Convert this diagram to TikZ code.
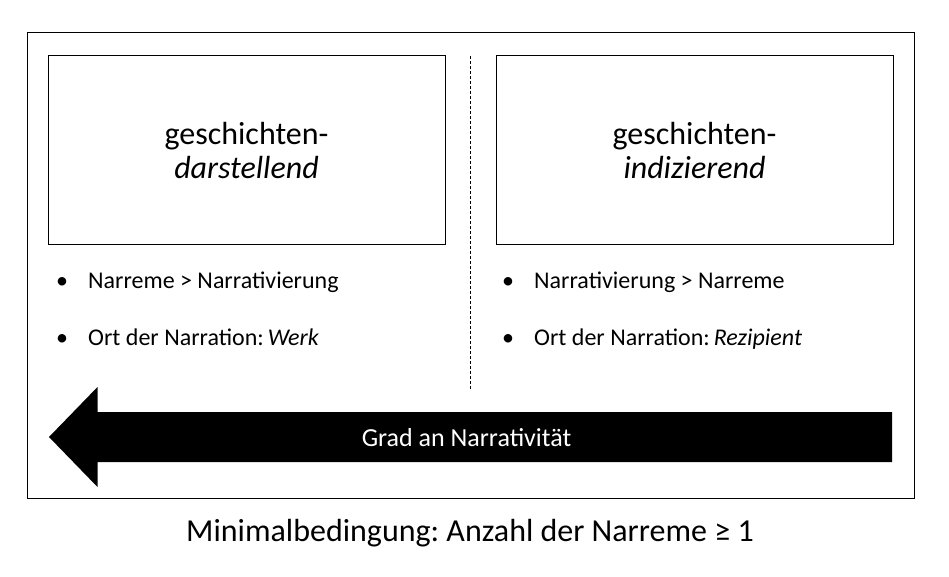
\documentclass[tikz,border=0pt]{standalone}
\usepackage{fontspec}
\setmainfont{Carlito}
\frenchspacing
\begin{document}
\begin{tikzpicture}[x=1pt,y=-1pt,
  box/.style={draw=black,line width=1pt},
  titletxt/.style={align=center,font=\fontsize{32}{33.5}\selectfont,inner sep=0pt,anchor=base},
  bullettxt/.style={font=\fontsize{24}{28}\selectfont,inner sep=0pt,anchor=base west},
  bulletdot/.style={font=\fontsize{24}{28}\selectfont,inner sep=0pt,anchor=base}
]
\useasboundingbox (0,0) rectangle (949,577);
% outer frame
\draw[line width=1pt] (27.5,32.5) rectangle (914.5,498.5);
% boxes
\node[box,minimum width=397pt,minimum height=188pt,inner sep=0pt] (lbox) at (246.5,150) {};
\node[box,minimum width=397pt,minimum height=188pt,inner sep=0pt] (rbox) at (694.5,150) {};
\node[titletxt] (lt) at (246.5,178.5) {geschichten-\\\textit{darstellend}};
\node[titletxt] (rt) at (694.5,178.5) {geschichten-\\\textit{indizierend}};
% dashed divider
\coordinate (dtop) at (470.5,56);
\coordinate (dbot) at (470.5,390);
\draw[dash pattern=on 3pt off 2pt,line width=0.8pt] (dtop) -- (dbot);
% bullets left
\node[bulletdot] (lb1) at (62,288) {•};
\node[bullettxt] (l1) at (88,288) {Narreme > Narrativierung};
\node[bulletdot] (lb2) at (62,345) {•};
\node[bullettxt] (l2) at (88,345) {Ort der Narration:\,\textit{Werk}};
% bullets right
\node[bulletdot] (rb1) at (508,288) {•};
\node[bullettxt] (r1) at (534,288) {Narrativierung > Narreme};
\node[bulletdot] (rb2) at (508,345) {•};
\node[bullettxt] (r2) at (534,345) {Ort der Narration:\,\textit{Rezipient}};
% big arrow
\fill[black] (49,437) -- (97.5,387) -- (97.5,412) -- (892,412) -- (892,462) -- (97.5,462) -- (97.5,487) -- cycle;
\node[font=\fontsize{26}{28}\selectfont,text=white,inner sep=0pt,anchor=base] (arrowtxt) at (466.5,446) {Grad an Narrativität};
% caption
\node[font=\fontsize{32}{36}\selectfont,inner sep=0pt,anchor=base] (cap) at (470,541) {Minimalbedingung: Anzahl der Narreme ≥ 1};
\end{tikzpicture}
\end{document}
